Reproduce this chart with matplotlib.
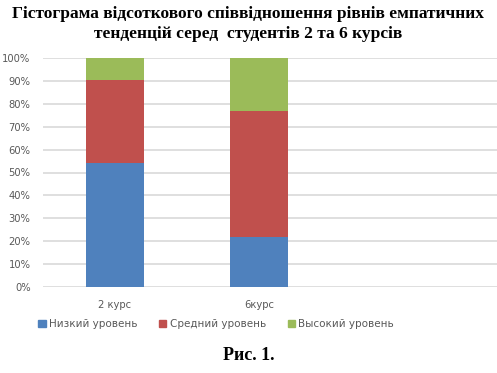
import numpy as np
import matplotlib.pyplot as plt
from matplotlib.patches import Rectangle

courses = ['2 курс', '6курс']
low = [54.0, 22.0]
medium = [36.5, 55.0]
high = [9.5, 23.0]
series_names = ['Низкий уровень', 'Средний уровень', 'Высокий уровень']
colors = ['#4F81BD', '#C0504D', '#9BBB59']
yticks = list(range(0, 101, 10))

W, H = 497, 373
fig = plt.figure(figsize=(W / 100, H / 100), dpi=100)
ax = fig.add_axes([43 / W, (H - 287) / H, 1 - 43 / W, (287 - 58) / H])

x = np.arange(len(courses))
bottom = np.zeros(len(courses))
for vals, name, c in zip([low, medium, high], series_names, colors):
    ax.bar(x, vals, width=0.4, bottom=bottom, color=c, label=name, zorder=3)
    bottom += np.array(vals)

ax.set_xlim(-0.5, -0.5 + (W - 43) / 144)
ax.set_ylim(0, 100)
ax.set_yticks(yticks)
ax.set_yticklabels([f'{v}%' for v in yticks], fontsize=7.2, color='#595959')
ax.set_xticks(x)
ax.set_xticklabels(courses, fontsize=7.2, color='#595959')
ax.tick_params(length=0, pad=9)
ax.tick_params(axis='x', pad=9)
ax.grid(axis='y', color='#d9d9d9', linewidth=1.2, zorder=0)
for s in ax.spines.values():
    s.set_visible(False)

# legend
handles = [Rectangle((0, 0), 1, 1, color=c) for c in colors]
fig.legend(handles, series_names, loc='center left', bbox_to_anchor=(29 / W, 1 - 324 / H),
           ncol=3, frameon=False, fontsize=7.5, handlelength=0.7, handleheight=0.7,
           handletextpad=0.3, columnspacing=2.1, labelcolor='#595959')

fig.text(0.5, 1 - 24 / H,
         'Гістограма відсоткового співвідношення рівнів емпатичних\nтенденцій серед  студентів 2 та 6 курсів',
         ha='center', va='center', fontsize=12.5, fontweight='bold',
         family='Liberation Serif', linespacing=1.4)
fig.text(0.5, 1 - 355 / H, 'Рис. 1.', ha='center', va='center', fontsize=13,
         fontweight='bold', family='Liberation Serif')

fig.savefig('out.png', dpi=100)
